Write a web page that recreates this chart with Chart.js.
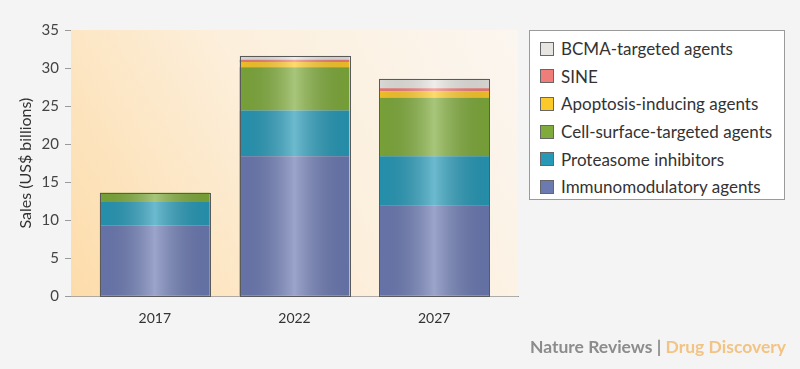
<!DOCTYPE html>
<html>
<head>
<meta charset="utf-8">
<script src="https://cdn.jsdelivr.net/npm/chart.js@4"></script>
<style>
  html, body { margin: 0; padding: 0; background: #f4f4f4; }
  #wrap { position: relative; width: 800px; height: 369px; font-family: Lato, sans-serif; }
  #legend { position: absolute; left: 529px; top: 30px; width: 256px; height: 170px;
            border: 1px solid #9a9a9a; background: #fff; box-sizing: border-box; padding-top: 4px; }
  .item { height: 27.6px; display: flex; align-items: center; font-size: 17px; color: #333; padding-left: 10px; }
  .sw { width: 14px; height: 14px; border: 1px solid #666; margin-right: 7px; box-sizing: border-box; }
  #credit { position: absolute; right: 14px; top: 336px; font-size: 17.5px; font-weight: bold; color: #8c8c8c; }
  #credit span { color: #f2c382; }
</style>
</head>
<body>
<div id="wrap">
  <canvas id="grafico" width="800" height="369"></canvas>
  <div id="legend"></div>
  <div id="credit">Nature Reviews | <span>Drug Discovery</span></div>
</div>
<script>
const anos = ['2017', '2022', '2027'];
const series = ['Immunomodulatory agents', 'Proteasome inhibitors', 'Cell-surface-targeted agents',
                'Apoptosis-inducing agents', 'SINE', 'BCMA-targeted agents'];
const imunomoduladores = [9.3, 18.4, 11.9];
const proteassoma = [3.1, 6.0, 6.5];
const superficie = [1.2, 5.7, 7.7];
const apoptose = [0, 0.7, 0.85];
const sine = [0, 0.3, 0.4];
const bcma = [0, 0.5, 1.25];
const yTicks = [0, 5, 10, 15, 20, 25, 30, 35];

const valores = [imunomoduladores, proteassoma, superficie, apoptose, sine, bcma];
const cores = ['#6c7ab2', '#2799b7', '#7fab3b', '#fcc92a', '#ef7d79', '#e7e5e1'];

// fundo degradê da área do gráfico
const fundo = {
    id: 'fundo',
    beforeDatasetsDraw(chart) {
        const a = chart.chartArea;
        const ctx = chart.ctx;
        const g = ctx.createLinearGradient(a.left, a.bottom, a.right, a.top);
        g.addColorStop(0, '#fddcaa');
        g.addColorStop(0.5, '#fcefdb');
        g.addColorStop(1, '#fbf6f0');
        ctx.save();
        ctx.fillStyle = g;
        ctx.fillRect(a.left, a.top, a.right - a.left, a.bottom - a.top);
        ctx.restore();
    }
};

// brilho cilíndrico e contorno de cada coluna
const brilho = {
    id: 'brilho',
    afterDatasetsDraw(chart) {
        const ctx = chart.ctx;
        const base = chart.getDatasetMeta(0);
        base.data.forEach((bar, i) => {
            let topo = bar.y;
            for (let d = 1; d < valores.length; d++) {
                const el = chart.getDatasetMeta(d).data[i];
                if (valores[d][i] > 0) topo = Math.min(topo, el.y);
            }
            const x0 = bar.x - bar.width / 2;
            const x1 = bar.x + bar.width / 2;
            const y1 = bar.base;
            const g = ctx.createLinearGradient(x0, 0, x1, 0);
            g.addColorStop(0, 'rgba(0,0,0,0.06)');
            g.addColorStop(0.5, 'rgba(255,255,255,0.32)');
            g.addColorStop(1, 'rgba(0,0,0,0.08)');
            ctx.save();
            ctx.fillStyle = g;
            ctx.fillRect(x0, topo, x1 - x0, y1 - topo);
            ctx.strokeStyle = '#5a5a5a';
            ctx.lineWidth = 1;
            ctx.strokeRect(Math.round(x0) + 0.5, Math.round(topo) + 0.5, Math.round(x1 - x0), Math.round(y1 - topo));
            ctx.restore();
        });
    }
};

const ctx = document.getElementById('grafico');

new Chart(ctx, {
    type: 'bar',
    data: {
        datasets: series.map((nome, d) => ({
            label: nome,
            data: valores[d].map((v, i) => ({ x: i, y: v })),
            backgroundColor: cores[d],
            borderWidth: 0,
            barPercentage: 0.786,
            categoryPercentage: 1
        }))
    },
    options: {
        responsive: false,
        animation: false,
        layout: { padding: { top: 30, right: 282, bottom: 28, left: 0 } },
        plugins: { legend: { display: false }, tooltip: { enabled: false } },
        scales: {
            x: {
                type: 'linear',
                stacked: true,
                offset: false,
                min: -0.6,
                max: 2.6,
                afterBuildTicks: (s) => { s.ticks = anos.map((a, i) => ({ value: i })); },
                ticks: {
                    callback: (v) => anos[v],
                    color: '#333',
                    font: { family: 'Lato', size: 14 },
                    padding: 14
                },
                grid: { offset: false, drawOnChartArea: false, drawTicks: false },
                border: { color: '#9a9a9a' }
            },
            y: {
                stacked: true,
                min: 0,
                max: 35,
                afterBuildTicks: (s) => { s.ticks = yTicks.map(v => ({ value: v })); },
                afterFit: (s) => { s.width = 71; },
                ticks: {
                    color: '#444',
                    font: { family: 'Lato', size: 15 },
                    padding: 6
                },
                grid: { drawOnChartArea: false, drawTicks: true, tickLength: 6, color: '#9a9a9a' },
                border: { color: '#9a9a9a' },
                title: {
                    display: true,
                    text: 'Sales (US$ billions)',
                    color: '#333',
                    font: { family: 'Lato', size: 16 },
                    padding: { top: 16, bottom: 0 }
                }
            }
        }
    },
    plugins: [fundo, brilho]
});

// legenda
const legenda = document.getElementById('legend');
for (let d = series.length - 1; d >= 0; d--) {
    const item = document.createElement('div');
    item.className = 'item';
    item.innerHTML = '<div class="sw" style="background:' + cores[d] + '"></div>' + series[d];
    legenda.appendChild(item);
}
</script>
</body>
</html>
